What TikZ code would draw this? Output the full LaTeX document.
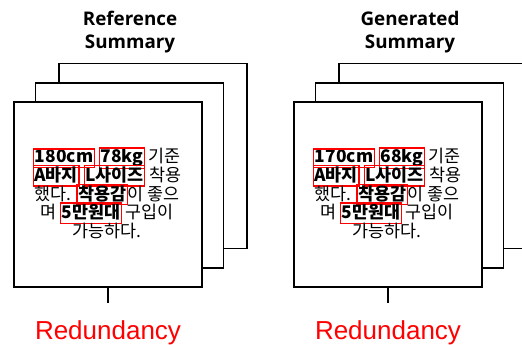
\documentclass[tikz,border=0pt]{standalone}
\usepackage{fontspec}
\setmainfont{Noto Sans CJK KR}
\newfontfamily\redfont{Liberation Sans}
\newfontfamily\ttlfont{Open Sans}
\lineskiplimit=-20pt
\newcommand\rb[1]{{\setlength\fboxsep{0.5pt}\setlength\fboxrule{1.2pt}\color{red}\fbox{\color{black}\bfseries\rule[-0.2em]{0pt}{0.86em}#1}}}
\tikzset{
  card/.style={draw=black, fill=white, line width=1.8pt, minimum width=188pt, minimum height=185pt, inner sep=0pt},
  stem/.style={draw=black, line width=1.8pt},
  ttl/.style={font=\ttlfont\bfseries\fontsize{18.8}{22.5}\selectfont, align=center, inner sep=0pt},
  body/.style={font=\fontsize{17.4}{18.6}\selectfont, align=center, inner sep=0pt},
  redlbl/.style={font=\redfont\fontsize{26}{28}\selectfont, text=red, inner sep=0pt}
}
\begin{document}
\begin{tikzpicture}[x=1pt,y=-1pt]
\useasboundingbox (0,0) rectangle (522,345);
\clip (0,0) rectangle (522,345);
% left panel
\node[ttl] (lt) at (130,32) {Reference\\Summary};
\node[card] (lb) at (153,156) {};
\node[card] (lm) at (129.5,175.5) {};
\node[card] (lf) at (108,194.5) {};
\node[body] (ltx) at (107,193) {\rb{180cm} \rb{78kg} 기준\\ \rb{A바지} \rb{L사이즈} 착용\\ 했다. \rb{착용감}이 좋으\\ 며 \rb{5만원대} 구입이\\ 가능하다.};
\coordinate (ls) at (108,303);
\draw[stem] (lf.south) -- (ls);
\node[redlbl] (lr) at (108,333) {Redundancy};
% right panel
\node[ttl] (rt) at (410,32) {Generated\\Summary};
\node[card] (rb) at (433,156) {};
\node[card] (rm) at (409.5,175.5) {};
\node[card] (rf) at (388,194.5) {};
\node[body] (rtx) at (387,193) {\rb{170cm} \rb{68kg} 기준\\ \rb{A바지} \rb{L사이즈} 착용\\ 했다. \rb{착용감}이 좋으\\ 며 \rb{5만원대} 구입이\\ 가능하다.};
\coordinate (rs) at (388,303);
\draw[stem] (rf.south) -- (rs);
\node[redlbl] (rr) at (388,333) {Redundancy};
\end{tikzpicture}
\end{document}
